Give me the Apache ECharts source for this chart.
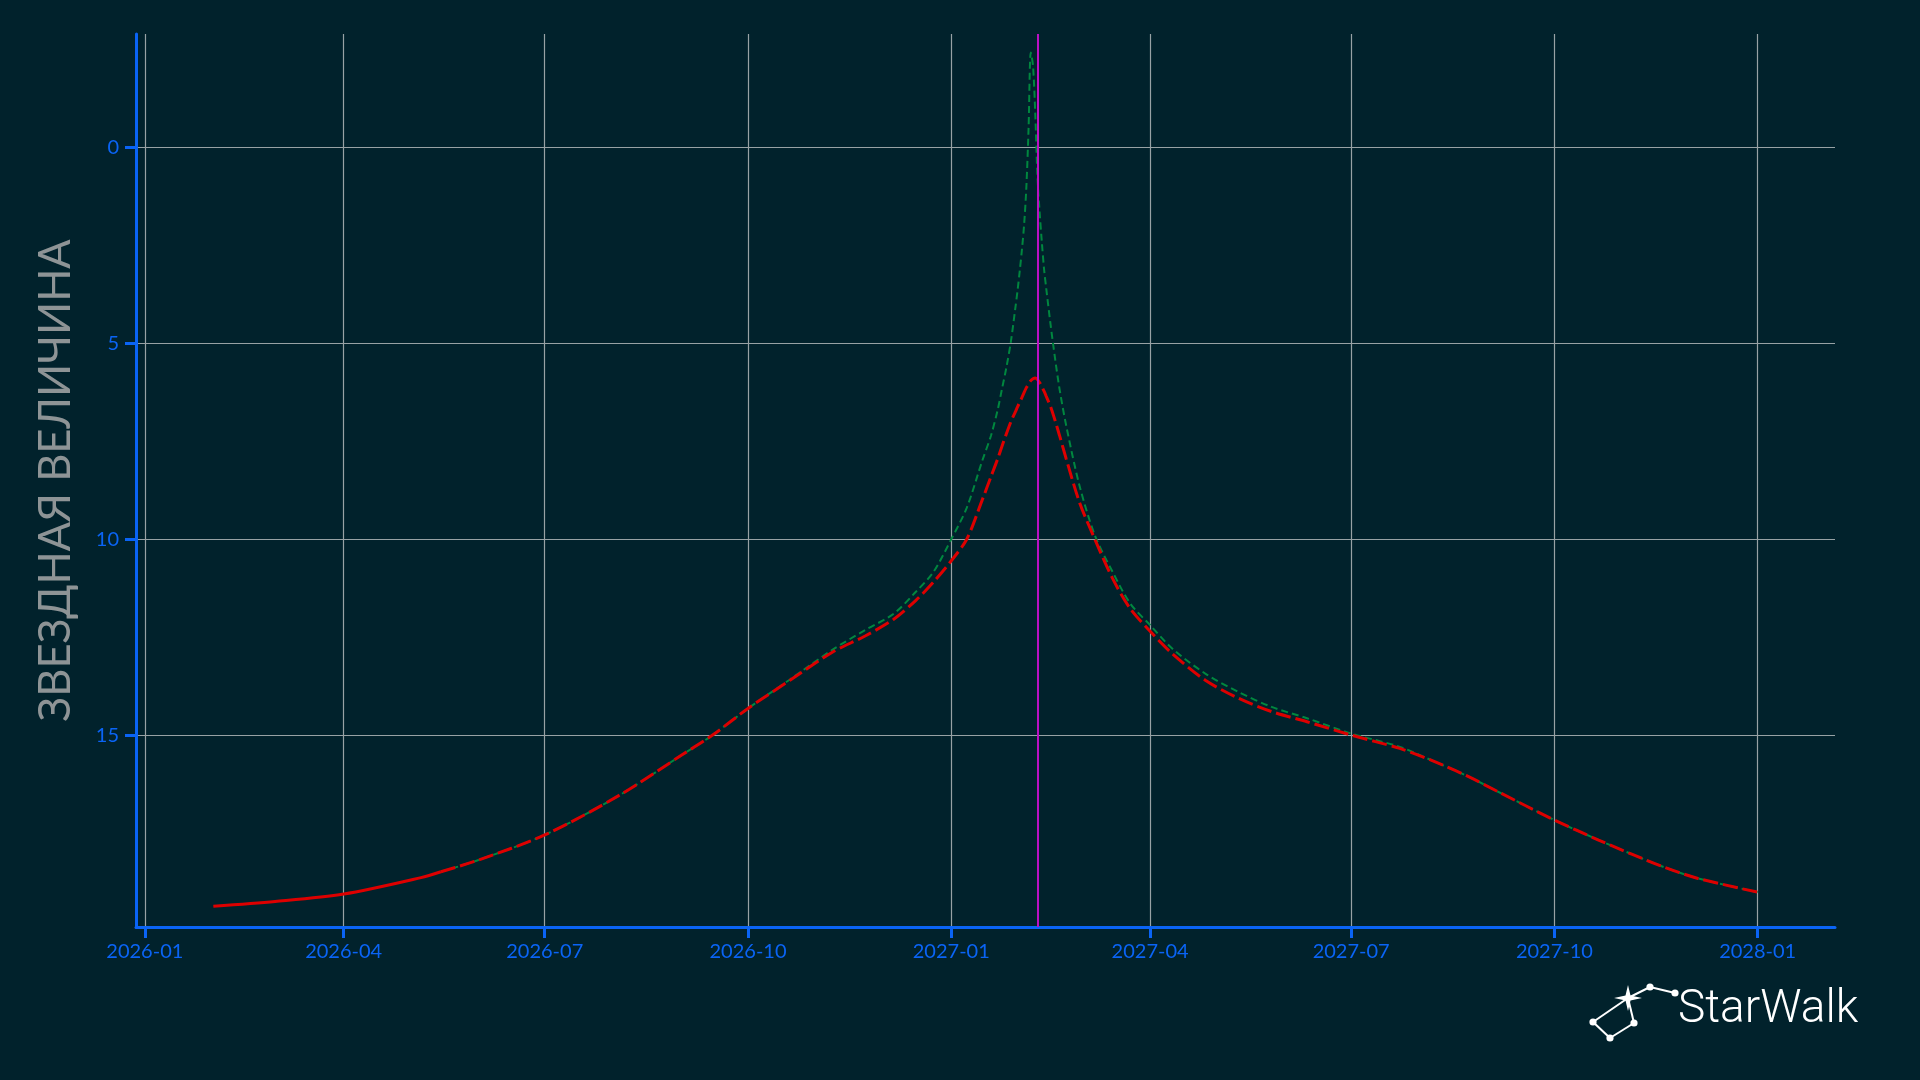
<!DOCTYPE html>
<html>
<head>
<meta charset="utf-8">
<script src="https://cdn.jsdelivr.net/npm/echarts@6/dist/echarts.min.js"></script>
<style>
html,body{margin:0;padding:0;background:#01222c;}
#chart{width:1920px;height:1080px;}
</style>
</head>
<body>
<div id="chart"></div>
<script>
// ---- data ----
const pastDates = ['2026-02-01','2026-03-01','2026-04-01','2026-05-06','2026-05-15'];
const pastMag   = [19.37, 19.25, 19.06, 18.64, 18.49];

const dates = ['2026-05-15','2026-06-01','2026-07-01','2026-08-04','2026-09-01','2026-09-15','2026-10-01','2026-10-20',
  '2026-11-08','2026-11-23','2026-12-06','2026-12-16','2026-12-24','2027-01-01','2027-01-08','2027-01-15','2027-01-19',
  '2027-01-22','2027-01-24','2027-01-26','2027-01-28','2027-01-30','2027-01-31','2027-02-01','2027-02-02','2027-02-03',
  '2027-02-04','2027-02-05','2027-02-06','2027-02-07','2027-02-08','2027-02-09','2027-02-10','2027-02-11','2027-02-12',
  '2027-02-13','2027-02-15','2027-02-17','2027-02-19','2027-02-22','2027-02-28','2027-03-07','2027-03-15','2027-03-23',
  '2027-04-01','2027-04-11','2027-04-26','2027-05-11','2027-05-26','2027-06-11','2027-07-01','2027-07-23','2027-08-07',
  '2027-08-22','2027-09-06','2027-10-01','2027-10-21','2027-11-05','2027-11-20','2027-12-05','2028-01-01'];
const redMag = [18.49,18.19,17.55,16.53,15.51,15.0,14.32,13.6,
  12.89,12.47,12.04,11.56,11.09,10.55,10.0,9.0,8.4,
  7.95,7.62,7.3,7.0,6.75,6.62,6.5,6.38,6.25,
  6.13,6.03,5.95,5.9,5.88,5.92,6.0,6.1,6.22,
  6.35,6.62,6.97,7.35,7.94,9.05,10.0,11.0,11.77,
  12.35,12.92,13.6,14.06,14.4,14.66,15.0,15.34,15.66,
  16.03,16.46,17.17,17.68,18.04,18.38,18.66,19.01];
const greenMag = [18.49,18.19,17.55,16.53,15.51,15.0,14.32,13.58,
  12.83,12.32,11.9,11.34,10.83,10.0,9.2,8.0,7.35,
  6.7,6.15,5.6,4.95,4.1,3.65,3.15,2.6,1.95,
  1.0,-0.5,-2.43,-2.09,-0.9,0.71,1.65,2.41,3.1,
  3.6,4.54,5.39,6.16,7.09,8.62,9.9,10.83,11.64,
  12.19,12.79,13.43,13.9,14.28,14.57,14.96,15.3,15.66,
  16.03,16.46,17.17,17.68,18.04,18.38,18.66,19.01];
const markerDate = '2027-02-09T07:00';
const xRange = ['2025-12-28', '2028-02-05'];
const xTickLabels = ['2026-01','2026-04','2026-07','2026-10','2027-01','2027-04','2027-07','2027-10','2028-01'];
const yTickValues = [0, 5, 10, 15];
const yAxisTitle = 'ЗВЕЗДНАЯ ВЕЛИЧИНА';
const logoText = 'StarWalk';

// ---- chart ----
const blue = '#0a64f5';
const ts = s => { const [d, t] = s.split('T'); const p = d.split('-').map(Number); const h = t ? +t.split(':')[0] : 0; return Date.UTC(p[0], (p[1]||1)-1, p[2]||1, h); };
const xTicks = xTickLabels.map(ts);
const pair = (xs, ys) => xs.map((d, i) => [ts(d), ys[i]]);
const fmt = v => { const d = new Date(v); return d.getUTCFullYear() + '-' + String(d.getUTCMonth()+1).padStart(2,'0'); };

const chart = echarts.init(document.getElementById('chart'), null, {renderer:'canvas'});
const lbl = {fontFamily:'Lato', fontSize:20, color: blue};

// logo constellation points
const P = [[1593,1022],[1610,1038],[1634,1023],[1628,998],[1650,987],[1675,993]];
const lines = [[0,3],[3,4],[4,5],[0,1],[1,2],[2,3]];
const graphics = [];
lines.forEach(([a,b]) => graphics.push({type:'line', shape:{x1:P[a][0],y1:P[a][1],x2:P[b][0],y2:P[b][1]}, style:{stroke:'#fff', lineWidth:2}}));
[0,1,2,4,5].forEach(i => graphics.push({type:'circle', shape:{cx:P[i][0], cy:P[i][1], r:3.6}, style:{fill:'#fff'}}));
graphics.push({type:'polygon', shape:{points:[[1628,985],[1630.5,995.5],[1642,998],[1630.5,1000.5],[1628,1011],[1625.5,1000.5],[1614,998],[1625.5,995.5]]}, style:{fill:'#fff'}});
graphics.push({type:'text', left:1678, top:987, style:{text:logoText, fill:'#fff', font:'300 46px Roboto'}});

chart.setOption({
  backgroundColor:'#01222c',
  animation:false,
  grid:{left:136, top:34, right:85, bottom:153, containLabel:false},
  xAxis:{
    type:'value',
    min:ts(xRange[0]), max:ts(xRange[1]),
    axisLine:{show:true, onZero:false, lineStyle:{color:blue, width:3}},
    axisTick:{show:true, length:11, lineStyle:{color:blue, width:3}, customValues:xTicks},
    axisLabel:Object.assign({margin:15, customValues:xTicks, formatter:fmt}, lbl),
    splitLine:{show:true, lineStyle:{color:'#98a2a5', width:1.2}}
  },
  yAxis:{
    type:'value', inverse:true, min:-2.9, max:19.9,
    name:yAxisTitle, nameLocation:'middle', nameGap:58, nameRotate:90,
    nameTextStyle:{fontFamily:'Lato', fontSize:43.5, color:'#8e9496'},
    axisLine:{show:true, onZero:false, lineStyle:{color:blue, width:3}},
    axisTick:{show:true, length:11, lineStyle:{color:blue, width:3}, customValues:yTickValues},
    axisLabel:Object.assign({margin:17, customValues:yTickValues}, lbl),
    splitLine:{show:true, lineStyle:{color:'#98a2a5', width:1.2}}
  },
  graphic:graphics,
  series:[
    {type:'line', data:pair(dates, greenMag), showSymbol:false, smooth:0.3, z:2,
     lineStyle:{color:'#00873f', width:2, type:[7,4]}},
    {type:'line', data:pair(pastDates, pastMag), showSymbol:false, smooth:0.3, z:3,
     lineStyle:{color:'#dd0000', width:3, type:'solid'}},
    {type:'line', data:pair(dates, redMag), showSymbol:false, smooth:0.3, z:3,
     lineStyle:{color:'#dd0000', width:3, type:[15,5]},
     markLine:{silent:true, symbol:'none', z:5, label:{show:false},
       lineStyle:{color:'#bb10c4', width:2, type:'solid'},
       data:[{xAxis:ts(markerDate)}]}}
  ]
});
</script>
</body>
</html>
